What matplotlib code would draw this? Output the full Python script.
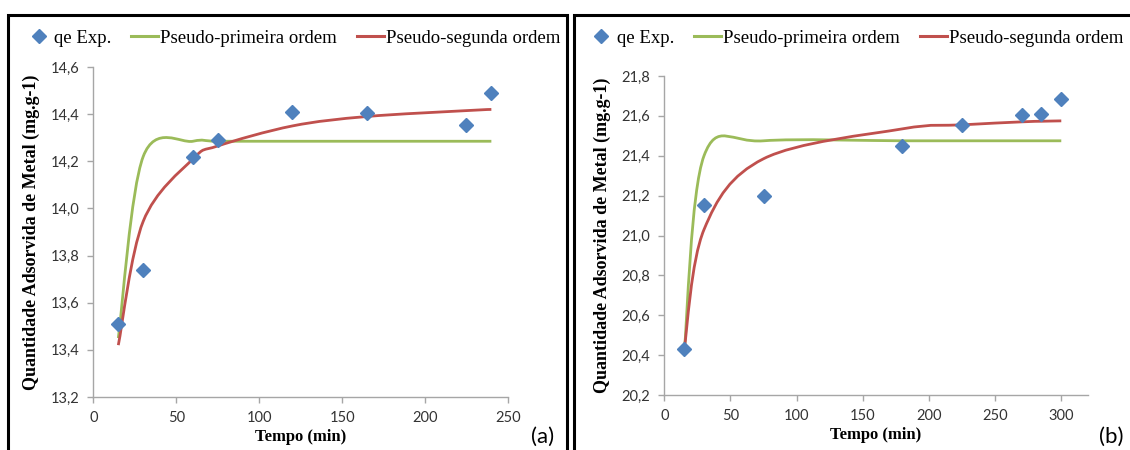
import numpy as np
import matplotlib
matplotlib.use("Agg")
import matplotlib.pyplot as plt
from matplotlib.path import Path
from matplotlib.patches import PathPatch, Rectangle
from matplotlib.lines import Line2D

# (a) tempo de contato e quantidade adsorvida
t_a = [15, 30, 60, 75, 120, 165, 225, 240]
qe_a = [13.51, 13.74, 14.22, 14.29, 14.41, 14.405, 14.355, 14.49]
pfo_a = [13.45, 14.22, 14.285, 14.285, 14.285, 14.285, 14.285, 14.285]
pso_a = [13.42, 13.945, 14.21, 14.265, 14.35, 14.39, 14.415, 14.42]

# (b)
t_b = [15, 30, 75, 180, 225, 270, 285, 300]
qe_b = [20.43, 21.155, 21.20, 21.45, 21.555, 21.605, 21.61, 21.685]
pfo_b = [20.415, 21.40, 21.475, 21.475, 21.475, 21.475, 21.475, 21.475]
pso_b = [20.43, 21.03, 21.385, 21.535, 21.555, 21.57, 21.573, 21.575]

yticks_a = [13.2, 13.4, 13.6, 13.8, 14.0, 14.2, 14.4, 14.6]
yticks_b = [20.2, 20.4, 20.6, 20.8, 21.0, 21.2, 21.4, 21.6, 21.8]
xticks_a = [0, 50, 100, 150, 200, 250]
xticks_b = [0, 50, 100, 150, 200, 250, 300]

BLUE = "#4f81bd"
GREEN = "#9bbb59"
RED = "#c0504d"
AXIS = "#a6a6a6"
SERIF = "Liberation Serif"
SANS = "Lato"


def smooth_path(x, y):
    # linha suavizada (Bezier tipo Catmull-Rom, como no Excel)
    p = np.column_stack([x, y]).astype(float)
    n = len(p)
    verts = [p[0]]
    codes = [Path.MOVETO]
    for i in range(n - 1):
        p0 = p[max(i - 1, 0)]
        p1 = p[i]
        p2 = p[i + 1]
        p3 = p[min(i + 2, n - 1)]
        verts += [p1 + (p2 - p0) / 6, p2 - (p3 - p1) / 6, p2]
        codes += [Path.CURVE4] * 3
    return Path(verts, codes)


def panel(ax, t, qe, pfo, pso, xlim, xticks, ylim, yticks):
    ax.add_patch(PathPatch(smooth_path(t, pfo), fill=False, ec=GREEN, lw=2.0, zorder=2))
    ax.add_patch(PathPatch(smooth_path(t, pso), fill=False, ec=RED, lw=2.0, zorder=2))
    ax.plot(t, qe, ls="none", marker="D", ms=7.5, color=BLUE, zorder=3, clip_on=False)
    ax.set_xlim(*xlim)
    ax.set_ylim(*ylim)
    ax.set_xticks(xticks)
    ax.set_xticklabels([str(v) for v in xticks])
    ax.set_yticks(yticks)
    ax.set_yticklabels([f"{v:.1f}".replace(".", ",") for v in yticks])
    for s in ["top", "right"]:
        ax.spines[s].set_visible(False)
    for s in ["left", "bottom"]:
        ax.spines[s].set_color(AXIS)
        ax.spines[s].set_linewidth(1.0)
    ax.tick_params(colors=AXIS, length=4, width=1.0, direction="out", pad=6,
                   labelcolor="#333333", labelsize=10.5)
    for lab in ax.get_xticklabels() + ax.get_yticklabels():
        lab.set_family(SANS)
    ax.set_xlabel("Tempo (min)", family=SERIF, weight="bold", fontsize=12, labelpad=3)
    ax.set_ylabel("Quantidade Adsorvida de Metal (mg.g-1)", family=SERIF,
                  weight="bold", fontsize=13, labelpad=8)


fig = plt.figure(figsize=(11.3, 4.5), dpi=100)
ax1 = fig.add_axes([0.0827, 0.1178, 0.3668, 0.7333])
ax2 = fig.add_axes([0.5879, 0.1222, 0.3747, 0.7089])

panel(ax1, t_a, qe_a, pfo_a, pso_a, (0, 250), xticks_a, (13.2, 14.6), yticks_a)
panel(ax2, t_b, qe_b, pfo_b, pso_b, (0, 320), xticks_b, (20.2, 21.8), yticks_b)

handles = [
    Line2D([], [], ls="none", marker="D", ms=7, color=BLUE),
    Line2D([], [], color=GREEN, lw=2.2),
    Line2D([], [], color=RED, lw=2.2),
]
names = ["qe Exp.", "Pseudo-primeira ordem", "Pseudo-segunda ordem"]
for cx in [0.259, 0.757]:
    fig.legend(handles, names, loc="center", bbox_to_anchor=(cx, 1 - 38 / 450), ncol=3,
               frameon=False, prop={"family": SERIF, "size": 13.5}, handlelength=1.45,
               handletextpad=0.1, columnspacing=1.05, borderaxespad=0)

fig.text(543 / 1130, 1 - 437 / 450, "(a)", family=SANS, fontsize=16, ha="center", va="center")
fig.text(1111 / 1130, 1 - 437 / 450, "(b)", family=SANS, fontsize=16, ha="center", va="center")

# molduras dos dois quadros
fig.add_artist(Rectangle((8 / 1130, -0.05), 559 / 1130, 1.05 - 15 / 450, transform=fig.transFigure,
                         fill=False, ec="black", lw=2.2))
fig.add_artist(Rectangle((574 / 1130, -0.05), 0.6, 1.05 - 15 / 450, transform=fig.transFigure,
                         fill=False, ec="black", lw=2.2))

fig.savefig("out.png", dpi=100)
